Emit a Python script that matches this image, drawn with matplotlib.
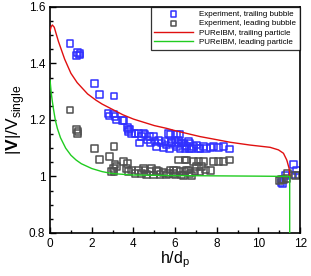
import matplotlib
matplotlib.use('Agg')
import matplotlib.pyplot as plt
from matplotlib.ticker import MultipleLocator

plt.rcParams['font.family'] = 'Liberation Sans'
plt.rcParams['mathtext.fontset'] = 'custom'
plt.rcParams['mathtext.rm'] = 'Liberation Sans'
plt.rcParams['mathtext.bf'] = 'Liberation Sans:bold'

# experiment, trailing bubble
trail_x = [0.96, 1.25, 1.31, 1.41, 1.44, 2.14, 2.37, 3.07, 2.78, 2.83, 3.04, 3.12, 3.17,
           3.49, 3.55, 3.71, 3.76, 3.84, 3.76, 3.92, 4.08, 4.24, 4.29, 4.40, 4.48, 4.56,
           4.67, 4.77, 4.83, 4.96, 5.04, 5.12, 5.20, 5.36, 5.44, 5.52, 5.60, 5.68, 5.73,
           5.79, 5.84, 6.00, 6.08, 6.16, 6.24, 6.32, 6.48, 6.64, 6.69, 6.00, 6.08, 6.24,
           6.40, 6.56, 6.72, 6.88, 7.04, 7.20, 7.36, 7.52, 7.68, 7.84, 8.08, 8.32, 8.61,
           5.84, 6.16, 6.48, 6.80, 7.12,
           11.08, 11.15, 11.28, 11.62, 11.68, 11.84]
trail_y = [1.471, 1.427, 1.438, 1.430, 1.436, 1.330, 1.289, 1.285, 1.224, 1.214, 1.221, 1.212, 1.200,
           1.198, 1.197, 1.174, 1.165, 1.168, 1.159, 1.153, 1.153, 1.153, 1.118, 1.141, 1.153, 1.147,
           1.129, 1.141, 1.118, 1.141, 1.123, 1.105, 1.126, 1.118, 1.102, 1.123, 1.111, 1.153, 1.100,
           1.147, 1.121, 1.111, 1.147, 1.129, 1.100, 1.118, 1.109, 1.123, 1.100, 1.129, 1.105, 1.147,
           1.118, 1.105, 1.118, 1.105, 1.111, 1.100, 1.105, 1.100, 1.102, 1.105, 1.102, 1.105, 1.097,
           1.118, 1.118, 1.100, 1.100, 1.100,
           0.978, 0.973, 1.002, 1.005, 1.041, 1.021]

# experiment, leading bubble
lead_x = [0.96, 1.25, 1.34, 1.30, 2.14, 2.37, 2.85, 3.07, 3.07, 3.12, 3.20, 3.04, 2.96,
          3.52, 3.73, 3.68, 3.76, 3.92, 4.08, 4.24, 4.40, 4.56, 4.64, 4.80, 4.96, 5.12,
          5.28, 5.44, 5.60, 5.76, 5.92, 6.08, 6.16, 6.32, 6.48, 6.56, 6.64, 6.48, 6.88,
          7.12, 7.36, 7.84, 8.08, 8.32, 8.61, 7.04, 7.28, 7.44, 7.68, 5.92, 6.24, 6.56,
          6.72, 6.96, 7.20, 6.00, 6.40, 6.80, 4.88, 4.48, 5.20, 5.68,
          11.01, 11.10, 11.20, 11.36, 11.39, 11.78, 11.92]
lead_y = [1.235, 1.165, 1.160, 1.153, 1.100, 1.061, 1.070, 1.105, 1.017, 1.043, 1.035, 1.029, 1.017,
          1.052, 1.047, 1.029, 1.017, 1.023, 1.011, 1.020, 1.011, 1.023, 1.008, 1.017, 1.005, 1.020,
          1.008, 1.015, 1.005, 1.023, 1.011, 1.020, 1.058, 1.005, 1.017, 1.058, 1.023, 1.058, 1.052,
          1.052, 1.052, 1.052, 1.052, 1.052, 1.058, 1.035, 1.035, 1.023, 1.020, 1.023, 1.017, 1.023,
          1.011, 1.017, 1.017, 1.005, 1.003, 1.003, 1.029, 1.029, 1.017, 1.011,
          0.985, 0.990, 0.988, 0.994, 1.011, 1.004, 1.005]

# PUReIBM, trailing particle
red_x = [0.0, 0.05, 0.11, 0.2, 0.4, 0.7, 1.0, 1.3, 1.8, 2.2, 2.5, 3.0, 3.5, 4.0, 5.0, 5.6,
         6.0, 7.2, 8.0, 8.64, 9.6, 10.56, 10.96, 11.2, 11.36, 11.47, 11.5]
red_y = [1.515, 1.530, 1.536, 1.528, 1.478, 1.415, 1.365, 1.332, 1.292, 1.270, 1.256, 1.237,
         1.218, 1.203, 1.180, 1.170, 1.162, 1.141, 1.130, 1.121, 1.111, 1.103, 1.094, 1.082,
         1.058, 1.029, 1.000]

# PUReIBM, leading particle
green_x = [0.0, 0.05, 0.1, 0.16, 0.25, 0.35, 0.5, 0.75, 1.0, 1.25, 1.5, 2.0, 2.5, 3.0, 4.0,
           6.0, 8.0, 10.0, 11.5, 11.5]
green_y = [1.34, 1.30, 1.27, 1.24, 1.20, 1.17, 1.137, 1.100, 1.075, 1.058, 1.045, 1.028,
           1.017, 1.010, 1.005, 1.003, 1.002, 1.001, 1.000, 0.800]

fig = plt.figure(figsize=(3.11, 2.76), dpi=100)
ax = fig.add_axes([0.161, 0.156, 0.804, 0.819])

ax.scatter(trail_x, trail_y, marker='s', s=24, facecolors='none', edgecolors='#3030ff',
           linewidths=1.1, label='Experiment, trailing bubble', zorder=2)
ax.scatter(lead_x, lead_y, marker='s', s=24, facecolors='none', edgecolors='#505050',
           linewidths=1.1, label='Experiment, leading bubble', zorder=2)
ax.plot(red_x, red_y, color='#e01010', lw=1.0, label='PUReIBM, trailing particle', zorder=3)
ax.plot(green_x, green_y, color='#20cc20', lw=1.0, label='PUReIBM, leading particle', zorder=3)

ax.set_xlim(0, 12)
ax.set_ylim(0.8, 1.6)
ax.xaxis.set_major_locator(MultipleLocator(2))
ax.xaxis.set_minor_locator(MultipleLocator(1))
ax.yaxis.set_major_locator(MultipleLocator(0.2))
ax.yaxis.set_minor_locator(MultipleLocator(0.05))
ax.set_yticks([0.8, 1.0, 1.2, 1.4, 1.6])
ax.set_yticklabels(['0.8', '1', '1.2', '1.4', '1.6'])
ax.tick_params(which='both', direction='in', labelsize=8.5, width=1.0)
ax.tick_params(which='major', length=4)
ax.tick_params(which='minor', length=2)
for s in ax.spines.values():
    s.set_linewidth(1.2)

ax.set_xlabel(r'h/d$_\mathrm{p}$', fontsize=11.5, labelpad=0)
ax.set_ylabel(r'|$\mathbf{V}$|/V$_\mathrm{single}$', fontsize=12.5, labelpad=1)

leg = ax.legend(loc='upper right', fontsize=5.8, frameon=True, fancybox=False,
                edgecolor='black', borderaxespad=0, handlelength=4.8, labelspacing=0.2,
                handletextpad=0.8, borderpad=0.45, markerscale=0.8)
leg.get_frame().set_linewidth(0.9)

fig.savefig('out.png', dpi=100)
